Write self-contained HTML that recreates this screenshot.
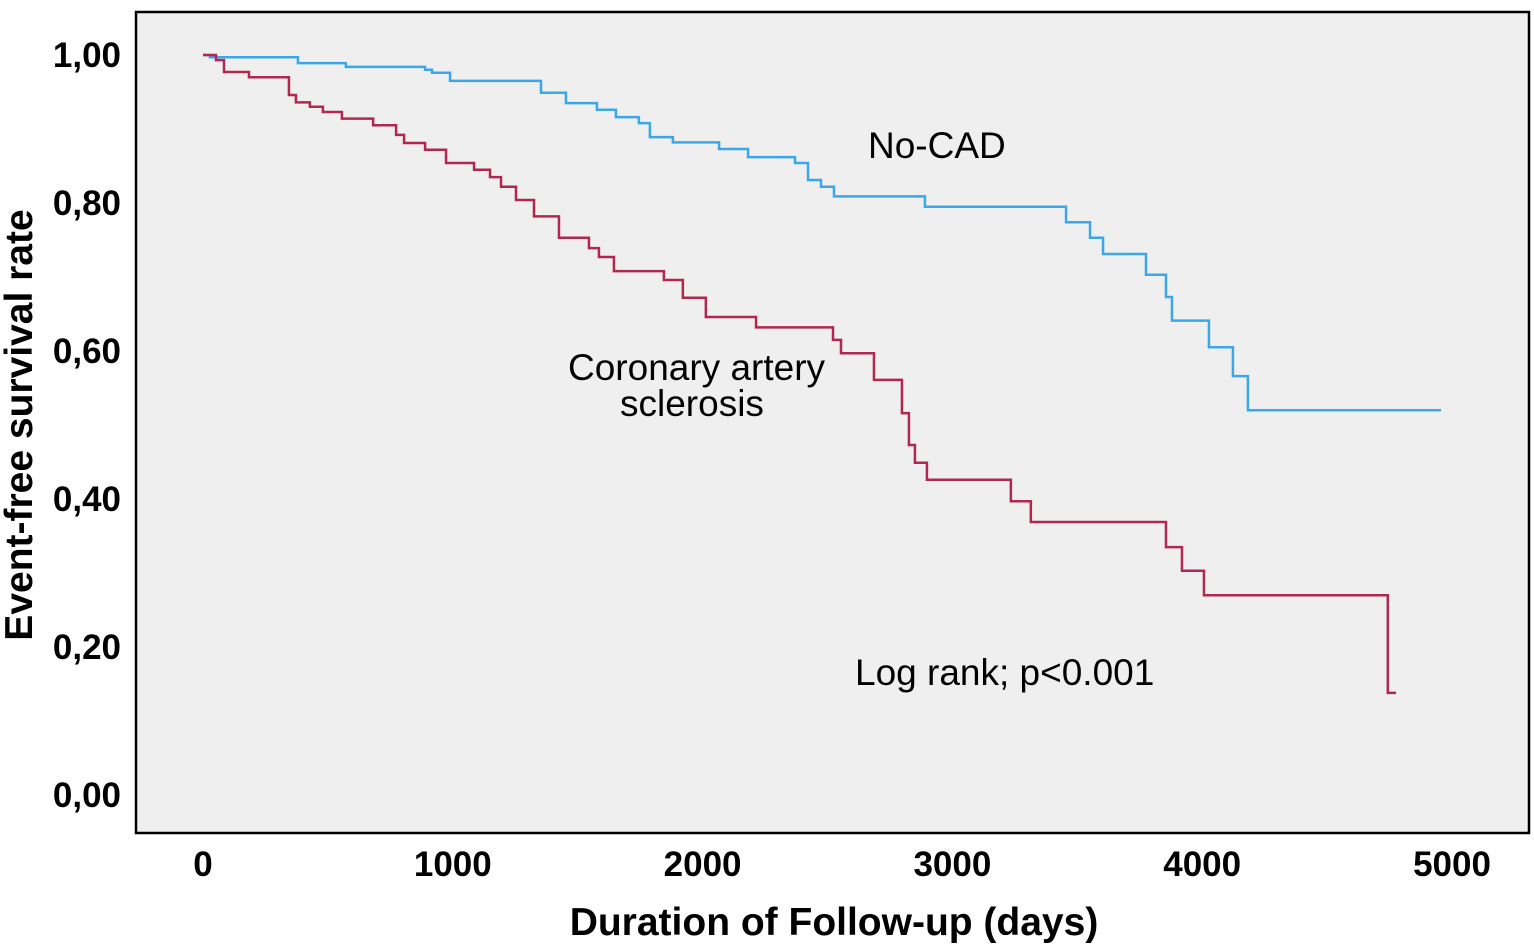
<!DOCTYPE html>
<html><head><meta charset="utf-8"><style>
html,body{margin:0;padding:0;background:#fff;}
svg{display:block;font-family:"Liberation Sans",sans-serif;}
</style></head><body>
<svg id="chart" width="1534" height="950" viewBox="0 0 1534 950" xmlns="http://www.w3.org/2000/svg">
<rect x="136" y="12" width="1393" height="821" fill="#efefef" stroke="#000" stroke-width="2.5"/>
<g id="yticks"></g><g id="xticks"></g><g id="series"></g>
<text transform="translate(32,425) rotate(-90)" text-anchor="middle" font-size="39" font-weight="bold">Event-free survival rate</text>
<text x="834" y="935" text-anchor="middle" font-size="39" font-weight="bold">Duration of Follow-up (days)</text>
<text x="868" y="158" font-size="37">No-CAD</text>
<text x="568" y="380" font-size="37">Coronary artery</text>
<text x="620" y="416" font-size="37">sclerosis</text>
<text x="855" y="685" font-size="37">Log rank; p&lt;0.001</text>
</svg>
<script>
const yTicks=[0,0.2,0.4,0.6,0.8,1.0];
const yTickLabels=["0,00","0,20","0,40","0,60","0,80","1,00"];
const xTicks=[0,1000,2000,3000,4000,5000];
const xTickLabels=["0","1000","2000","3000","4000","5000"];
const noCadDays=[0,28,380,572,889,917,989,1353,1453,1577,1653,1745,1789,1881,2066,2182,2370,2422,2474,2526,2890,3455,3551,3603,3775,3855,3879,4027,4123,4183];
const noCadSurv=[1.0,0.997,0.989,0.984,0.980,0.976,0.965,0.949,0.935,0.926,0.916,0.908,0.889,0.882,0.873,0.862,0.854,0.831,0.822,0.809,0.795,0.774,0.753,0.731,0.703,0.673,0.641,0.605,0.566,0.520];
const noCadEnd=4956;
const casDays=[0,52,84,184,344,372,428,480,556,681,773,805,889,973,1085,1149,1193,1253,1325,1425,1545,1585,1645,1845,1921,2013,2214,2522,2554,2686,2798,2826,2850,2898,3234,3314,3855,3919,4007,4743];
const casSurv=[1.0,0.993,0.977,0.970,0.946,0.936,0.930,0.923,0.914,0.905,0.892,0.881,0.872,0.854,0.845,0.835,0.822,0.804,0.782,0.753,0.739,0.727,0.708,0.696,0.672,0.646,0.632,0.615,0.597,0.561,0.516,0.473,0.449,0.426,0.397,0.369,0.335,0.303,0.270,0.138];
const casEnd=4776;
const NS="http://www.w3.org/2000/svg";
const xs=d=>203+d*0.2498;
const ys=v=>795-v*740;
const yt=document.getElementById('yticks');
yTicks.forEach((v,i)=>{
 const t=document.createElementNS(NS,'text');
 
 
 t.setAttribute('x',121);t.setAttribute('y',ys(v)+12);
 t.setAttribute('text-anchor','end');t.setAttribute('font-size','35');t.setAttribute('font-weight','bold');
 t.textContent=yTickLabels[i];yt.appendChild(t);
});
const xt=document.getElementById('xticks');
xTicks.forEach((v,i)=>{
 const t=document.createElementNS(NS,'text');
 
 
 t.setAttribute('x',xs(v));t.setAttribute('y',876);
 t.setAttribute('text-anchor','middle');t.setAttribute('font-size','35');t.setAttribute('font-weight','bold');
 t.textContent=xTickLabels[i];xt.appendChild(t);
});
function stepPath(days,surv,end){
 let d='M'+xs(days[0])+' '+ys(surv[0]);
 for(let i=1;i<days.length;i++){d+=' H'+xs(days[i])+' V'+ys(surv[i]);}
 d+=' H'+xs(end);return d;
}
const sg=document.getElementById('series');
const p1=document.createElementNS(NS,'path');


p1.setAttribute('d',stepPath(noCadDays,noCadSurv,noCadEnd));
p1.setAttribute('fill','none');p1.setAttribute('stroke','#3aa8e8');p1.setAttribute('stroke-width','2.5');
sg.appendChild(p1);
const p2=document.createElementNS(NS,'path');


p2.setAttribute('d',stepPath(casDays,casSurv,casEnd));
p2.setAttribute('fill','none');p2.setAttribute('stroke','#b0284f');p2.setAttribute('stroke-width','2.5');
sg.appendChild(p2);
</script>
</body></html>
